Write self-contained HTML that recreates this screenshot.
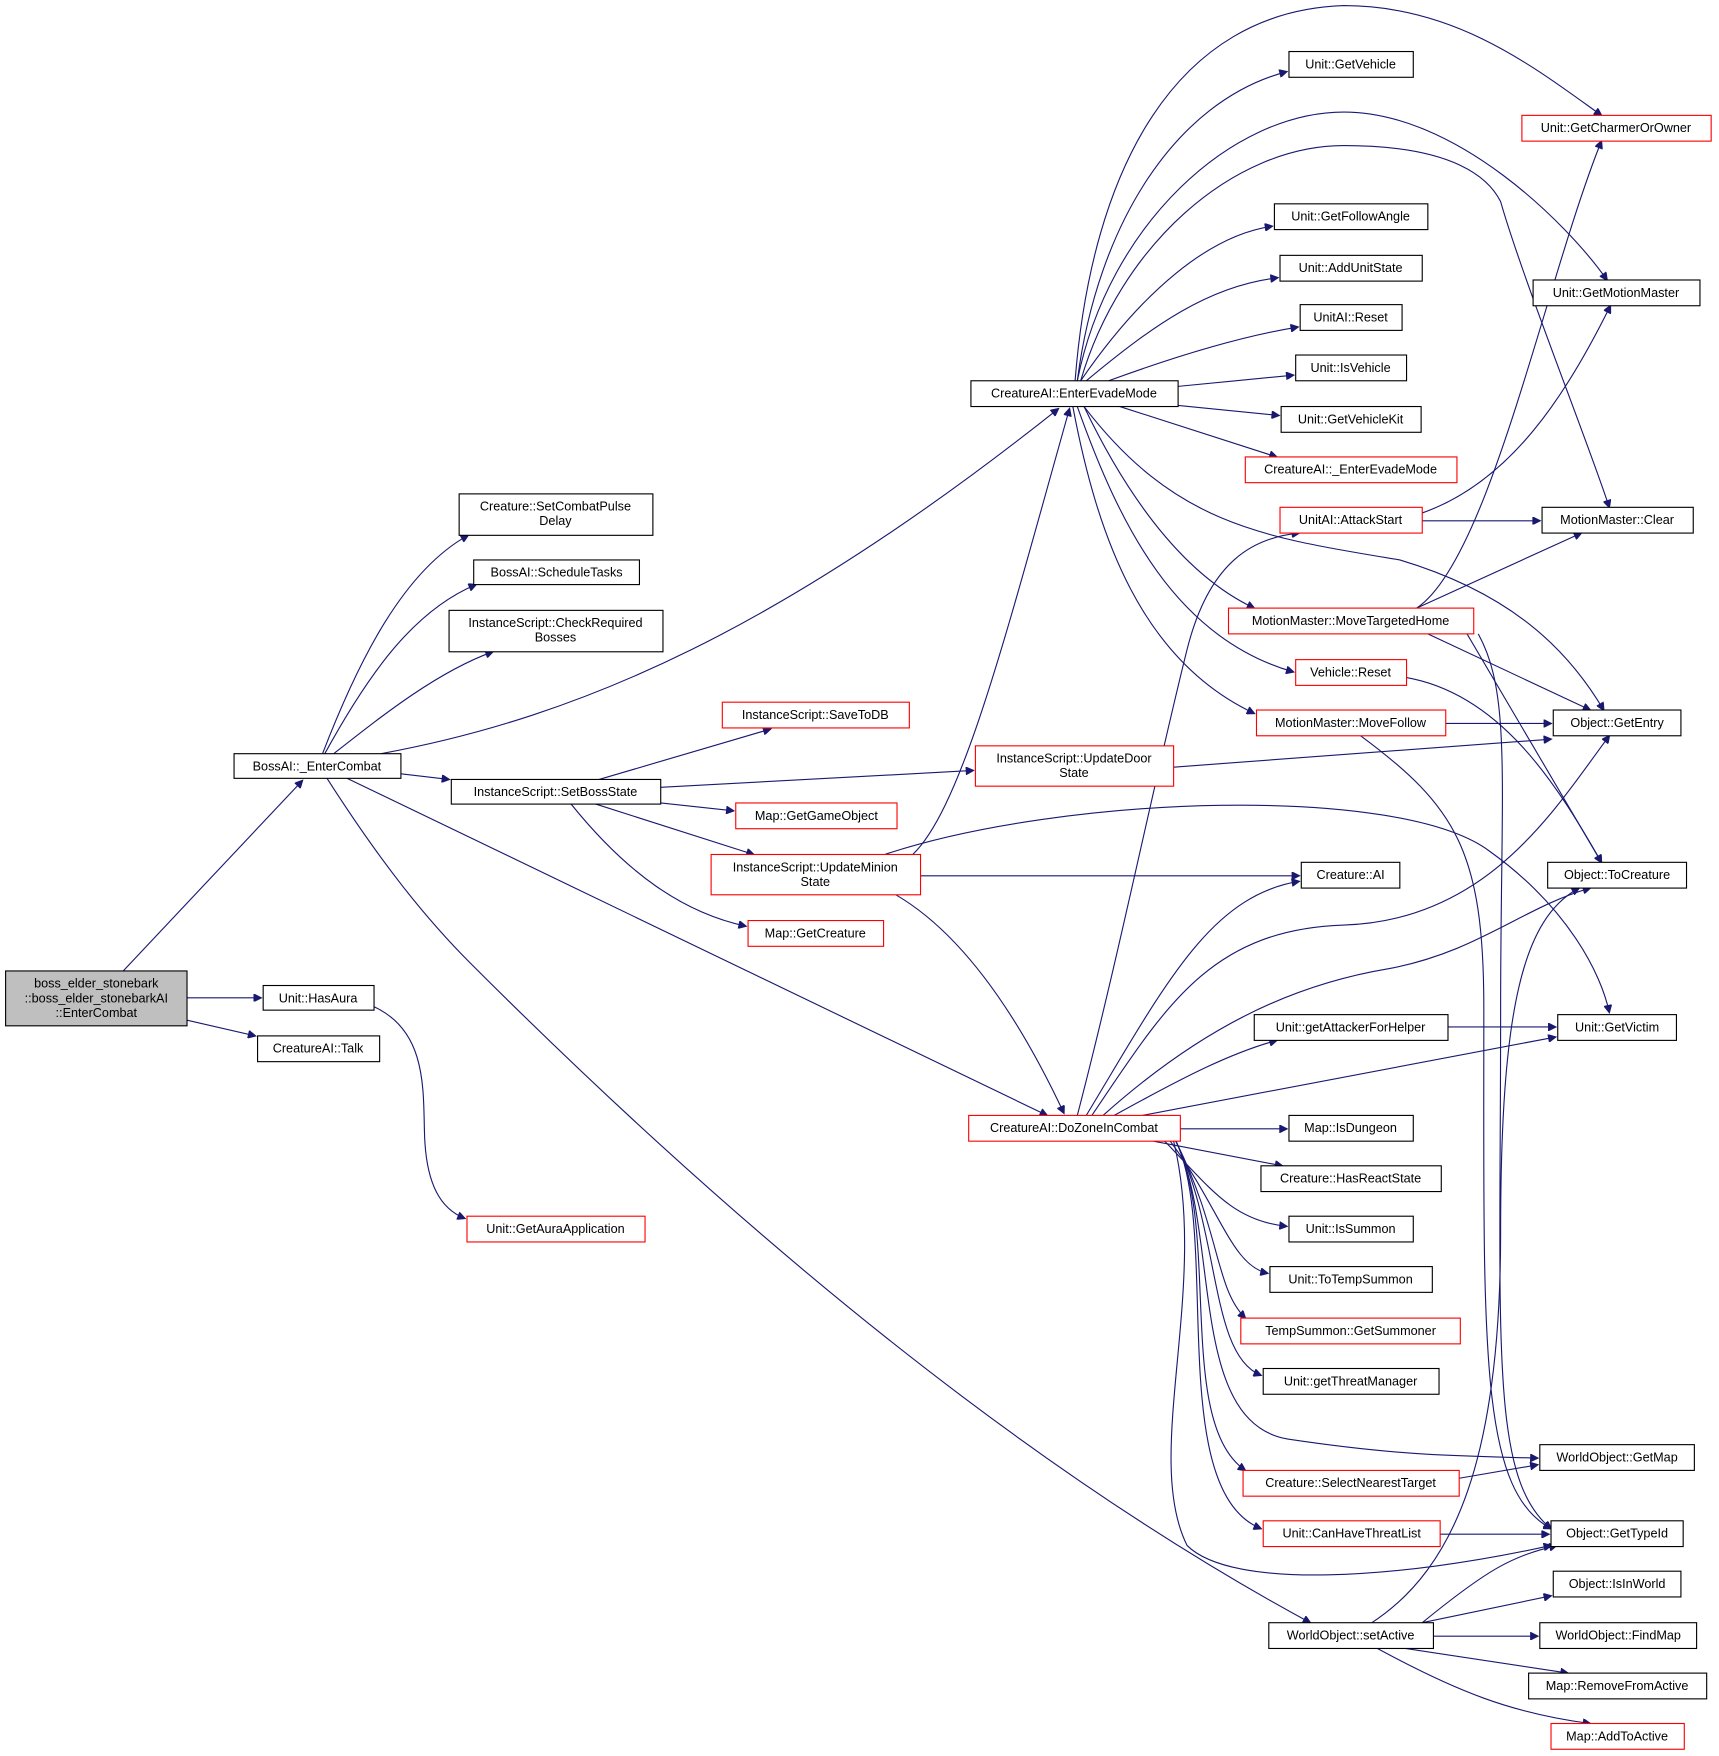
<!DOCTYPE html>
<html><head><meta charset="utf-8"><style>
html,body{margin:0;padding:0;background:#fff}
svg{display:block}
text{font-family:"Liberation Sans","DejaVu Sans",sans-serif;font-size:11.3px;fill:#000}
.n{fill:#fff;stroke:#000;stroke-width:1}
.r{fill:#fff;stroke:#ff0000;stroke-width:1}
.e{fill:none;stroke:#191970;stroke-width:1}
</style></head><body>
<svg width="1719" height="1756" viewBox="0 0 1535 1568" xmlns="http://www.w3.org/2000/svg">
<defs><marker id="a" viewBox="0 0 10 10" refX="9" refY="5" markerWidth="9" markerHeight="7" orient="auto" markerUnits="userSpaceOnUse"><path d="M0,0 L10,5 L0,10 z" fill="#191970" stroke="#191970"/></marker></defs>
<g marker-end="url(#a)">
<path class="e" d="M110,867 L270,697"/>
<path class="e" d="M167,891 L233,891"/>
<path class="e" d="M167,911 L228,925"/>
<path class="e" d="M334,899 C380,920 378,970 379,1010 C380,1060 395,1080 415,1088"/>
<path class="e" d="M288,673 C320,590 360,510 418,478"/>
<path class="e" d="M290,673 C330,600 370,545 425,522"/>
<path class="e" d="M298,673 C340,640 390,600 440,582"/>
<path class="e" d="M340,673 C520,640 700,560 945,365"/>
<path class="e" d="M358,691 L401,696"/>
<path class="e" d="M310,695 L935,996"/>
<path class="e" d="M292,695 C340,770 380,820 420,860 C700,1140 950,1330 1170,1449"/>
<path class="e" d="M535,696 L688,651"/>
<path class="e" d="M590,703 L869,688"/>
<path class="e" d="M590,717 L655,724"/>
<path class="e" d="M532,718 L673,763"/>
<path class="e" d="M510,718 C560,780 610,815 666,827"/>
<path class="e" d="M815,763 C860,720 900,560 955,365"/>
<path class="e" d="M822,782 L1160,782"/>
<path class="e" d="M790,763 C950,710 1250,700 1330,760 C1400,810 1430,870 1437,904"/>
<path class="e" d="M800,799 C870,840 920,930 950,994"/>
<path class="e" d="M1048,685 L1385,660"/>
<path class="e" d="M962,340 C980,200 1050,90 1149,64"/>
<path class="e" d="M960,340 C975,150 1050,10 1200,5 C1300,5 1370,60 1430,103"/>
<path class="e" d="M962,340 C990,200 1100,100 1200,100 C1300,100 1400,200 1435,250"/>
<path class="e" d="M965,340 C1000,220 1100,130 1200,130 C1300,130 1330,160 1340,180 C1360,250 1420,400 1437,453"/>
<path class="e" d="M965,340 C1020,260 1080,210 1136,202"/>
<path class="e" d="M970,340 C1030,290 1080,255 1141,248"/>
<path class="e" d="M990,340 C1050,318 1110,300 1159,292"/>
<path class="e" d="M1052,345 L1155,335"/>
<path class="e" d="M1052,362 L1142,371"/>
<path class="e" d="M1000,363 L1140,408"/>
<path class="e" d="M968,363 C1000,430 1050,510 1120,543"/>
<path class="e" d="M962,363 C1000,470 1050,570 1155,600"/>
<path class="e" d="M958,363 C980,480 1020,590 1120,637"/>
<path class="e" d="M968,363 C1050,470 1130,480 1250,500 C1350,530 1400,580 1432,634"/>
<path class="e" d="M1270,465 L1375,465"/>
<path class="e" d="M1270,458 C1350,430 1400,350 1438,273"/>
<path class="e" d="M1265,543 C1330,500 1380,250 1430,126"/>
<path class="e" d="M1265,543 L1412,476"/>
<path class="e" d="M1275,566 L1420,634"/>
<path class="e" d="M1310,566 C1360,650 1400,720 1430,770"/>
<path class="e" d="M1320,566 C1350,620 1340,700 1340,900 C1340,1200 1330,1320 1385,1365"/>
<path class="e" d="M1256,605 C1340,620 1390,700 1430,770"/>
<path class="e" d="M1291,646 L1385,646"/>
<path class="e" d="M1215,657 C1300,720 1325,760 1325,900 C1325,1200 1320,1330 1385,1365"/>
<path class="e" d="M962,996 C1000,850 1030,700 1060,580 C1080,500 1120,480 1160,476"/>
<path class="e" d="M970,996 C1040,880 1080,800 1160,787"/>
<path class="e" d="M975,996 C1040,900 1080,830 1200,826 C1330,822 1390,720 1437,657"/>
<path class="e" d="M985,996 C1070,920 1150,880 1240,865 C1320,850 1360,810 1420,793"/>
<path class="e" d="M995,996 C1060,960 1100,940 1140,929"/>
<path class="e" d="M1020,996 L1389,926"/>
<path class="e" d="M1054,1008 L1149,1008"/>
<path class="e" d="M1030,1019 L1145,1041"/>
<path class="e" d="M1040,1019 C1080,1060 1100,1090 1149,1095"/>
<path class="e" d="M1045,1019 C1090,1080 1100,1130 1132,1137"/>
<path class="e" d="M1050,1019 C1090,1100 1085,1150 1112,1177"/>
<path class="e" d="M1050,1019 C1090,1100 1080,1210 1126,1228"/>
<path class="e" d="M1050,1019 C1090,1100 1060,1270 1150,1285 C1250,1300 1300,1300 1373,1302"/>
<path class="e" d="M1050,1019 C1090,1100 1050,1270 1112,1313"/>
<path class="e" d="M1050,1019 C1090,1100 1040,1330 1126,1365"/>
<path class="e" d="M1048,1019 C1080,1150 1020,1300 1060,1380 C1100,1420 1250,1410 1385,1380"/>
<path class="e" d="M1303,1320 L1373,1308"/>
<path class="e" d="M1286,1370 L1383,1370"/>
<path class="e" d="M1293,917 L1389,917"/>
<path class="e" d="M1270,1449 C1330,1400 1350,1390 1390,1380"/>
<path class="e" d="M1225,1449 C1300,1400 1340,1300 1340,1100 C1340,900 1360,820 1410,793"/>
<path class="e" d="M1270,1449 L1385,1425"/>
<path class="e" d="M1280,1461 L1373,1461"/>
<path class="e" d="M1255,1472 L1400,1494"/>
<path class="e" d="M1230,1472 C1300,1510 1350,1530 1420,1539"/>
</g>
<g text-anchor="middle">
<rect x="5" y="867" width="162" height="49" fill="#bfbfbf" stroke="#000"/>
<text x="86" y="882">boss_elder_stonebark</text><text x="86" y="895">::boss_elder_stonebarkAI</text><text x="86" y="908">::EnterCombat</text>
<rect class="n" x="235" y="880" width="99" height="22"/><text x="284" y="895">Unit::HasAura</text>
<rect class="n" x="230" y="925" width="109" height="23"/><text x="284" y="940">CreatureAI::Talk</text>
<rect class="r" x="417" y="1086" width="159" height="23"/><text x="496" y="1101">Unit::GetAuraApplication</text>
<rect class="n" x="209" y="673" width="149" height="22"/><text x="283" y="688">BossAI::_EnterCombat</text>
<rect class="n" x="410" y="441" width="173" height="37"/><text x="496" y="456">Creature::SetCombatPulse</text><text x="496" y="469">Delay</text>
<rect class="n" x="423" y="500" width="148" height="22"/><text x="497" y="515">BossAI::ScheduleTasks</text>
<rect class="n" x="401" y="545" width="191" height="37"/><text x="496" y="560">InstanceScript::CheckRequired</text><text x="496" y="573">Bosses</text>
<rect class="n" x="403" y="696" width="187" height="22"/><text x="496" y="711">InstanceScript::SetBossState</text>
<rect class="r" x="645" y="627" width="167" height="23"/><text x="728" y="642">InstanceScript::SaveToDB</text>
<rect class="r" x="657" y="717" width="144" height="23"/><text x="729" y="732">Map::GetGameObject</text>
<rect class="r" x="635" y="763" width="187" height="36"/><text x="728" y="778">InstanceScript::UpdateMinion</text><text x="728" y="791">State</text>
<rect class="r" x="668" y="822" width="121" height="23"/><text x="728" y="837">Map::GetCreature</text>
<rect class="r" x="871" y="666" width="177" height="36"/><text x="959" y="681">InstanceScript::UpdateDoor</text><text x="959" y="694">State</text>
<rect class="n" x="867" y="340" width="185" height="23"/><text x="959" y="355">CreatureAI::EnterEvadeMode</text>
<rect class="r" x="865" y="996" width="189" height="23"/><text x="959" y="1011">CreatureAI::DoZoneInCombat</text>
<rect class="n" x="1162" y="770" width="88" height="23"/><text x="1206" y="785">Creature::AI</text>
<rect class="n" x="1151" y="46" width="111" height="23"/><text x="1206" y="61">Unit::GetVehicle</text>
<rect class="r" x="1359" y="103" width="169" height="23"/><text x="1443" y="118">Unit::GetCharmerOrOwner</text>
<rect class="n" x="1138" y="182" width="137" height="23"/><text x="1206" y="197">Unit::GetFollowAngle</text>
<rect class="n" x="1143" y="228" width="127" height="23"/><text x="1206" y="243">Unit::AddUnitState</text>
<rect class="n" x="1161" y="272" width="91" height="23"/><text x="1206" y="287">UnitAI::Reset</text>
<rect class="n" x="1157" y="317" width="99" height="23"/><text x="1206" y="332">Unit::IsVehicle</text>
<rect class="n" x="1144" y="363" width="125" height="23"/><text x="1206" y="378">Unit::GetVehicleKit</text>
<rect class="r" x="1112" y="408" width="189" height="23"/><text x="1206" y="423">CreatureAI::_EnterEvadeMode</text>
<rect class="r" x="1143" y="453" width="127" height="23"/><text x="1206" y="468">UnitAI::AttackStart</text>
<rect class="r" x="1097" y="543" width="219" height="23"/><text x="1206" y="558">MotionMaster::MoveTargetedHome</text>
<rect class="r" x="1157" y="589" width="99" height="23"/><text x="1206" y="604">Vehicle::Reset</text>
<rect class="r" x="1122" y="634" width="169" height="23"/><text x="1206" y="649">MotionMaster::MoveFollow</text>
<rect class="n" x="1369" y="250" width="149" height="23"/><text x="1443" y="265">Unit::GetMotionMaster</text>
<rect class="n" x="1377" y="453" width="135" height="23"/><text x="1444" y="468">MotionMaster::Clear</text>
<rect class="n" x="1387" y="634" width="114" height="23"/><text x="1444" y="649">Object::GetEntry</text>
<rect class="n" x="1382" y="770" width="124" height="23"/><text x="1444" y="785">Object::ToCreature</text>
<rect class="n" x="1391" y="906" width="106" height="23"/><text x="1444" y="921">Unit::GetVictim</text>
<rect class="n" x="1120" y="906" width="173" height="23"/><text x="1206" y="921">Unit::getAttackerForHelper</text>
<rect class="n" x="1151" y="996" width="111" height="23"/><text x="1206" y="1011">Map::IsDungeon</text>
<rect class="n" x="1126" y="1041" width="161" height="23"/><text x="1206" y="1056">Creature::HasReactState</text>
<rect class="n" x="1151" y="1086" width="111" height="23"/><text x="1206" y="1101">Unit::IsSummon</text>
<rect class="n" x="1134" y="1131" width="145" height="23"/><text x="1206" y="1146">Unit::ToTempSummon</text>
<rect class="r" x="1108" y="1177" width="196" height="23"/><text x="1206" y="1192">TempSummon::GetSummoner</text>
<rect class="n" x="1128" y="1222" width="157" height="23"/><text x="1206" y="1237">Unit::getThreatManager</text>
<rect class="n" x="1375" y="1290" width="138" height="23"/><text x="1444" y="1305">WorldObject::GetMap</text>
<rect class="r" x="1110" y="1313" width="193" height="23"/><text x="1206" y="1328">Creature::SelectNearestTarget</text>
<rect class="r" x="1128" y="1358" width="158" height="23"/><text x="1207" y="1373">Unit::CanHaveThreatList</text>
<rect class="n" x="1385" y="1358" width="118" height="23"/><text x="1444" y="1373">Object::GetTypeId</text>
<rect class="n" x="1387" y="1403" width="114" height="23"/><text x="1444" y="1418">Object::IsInWorld</text>
<rect class="n" x="1133" y="1449" width="147" height="23"/><text x="1206" y="1464">WorldObject::setActive</text>
<rect class="n" x="1375" y="1449" width="140" height="23"/><text x="1445" y="1464">WorldObject::FindMap</text>
<rect class="n" x="1365" y="1494" width="159" height="23"/><text x="1444" y="1509">Map::RemoveFromActive</text>
<rect class="r" x="1385" y="1539" width="119" height="23"/><text x="1444" y="1554">Map::AddToActive</text>
</g>
</svg>
</body></html>
